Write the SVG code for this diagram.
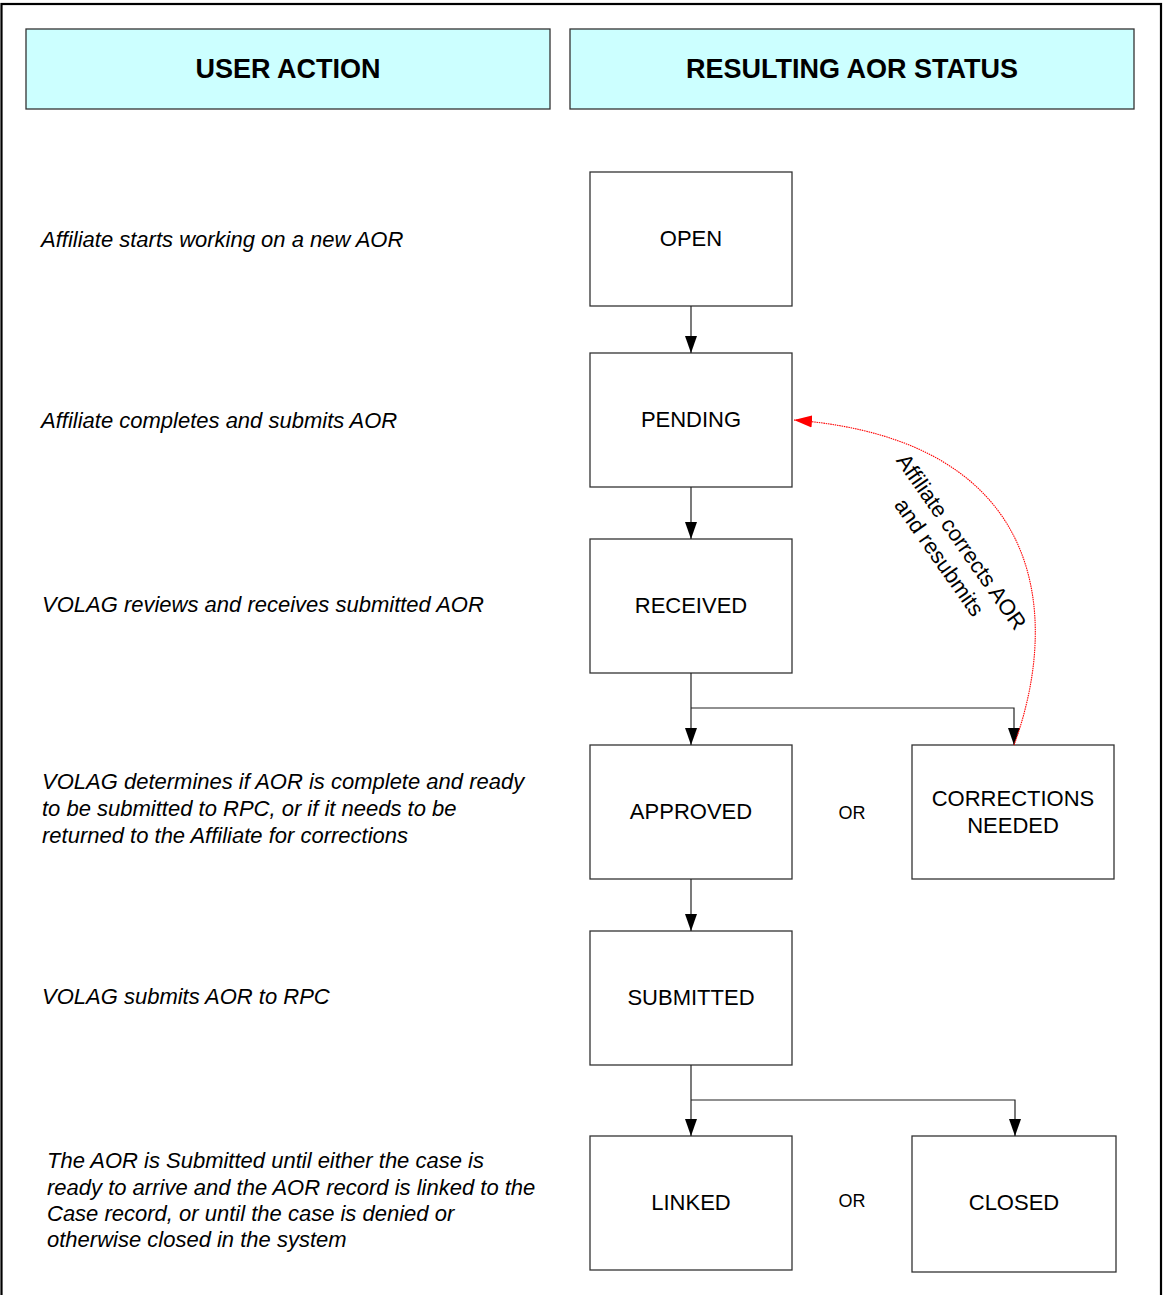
<svg xmlns="http://www.w3.org/2000/svg" width="1163" height="1295" viewBox="0 0 1163 1295">
<defs>
<style>
.hdr{fill:#ccffff;stroke:#333;stroke-width:1.3}
.hdrt{font-family:"Liberation Sans",Arial,sans-serif;font-size:27px;font-weight:bold;fill:#000;text-anchor:middle}
.box{fill:#fff;stroke:#333;stroke-width:1.3}
.bt{font-family:"Liberation Sans",Arial,sans-serif;font-size:22px;fill:#000;text-anchor:middle}
.lt{font-family:"Liberation Sans",Arial,sans-serif;font-size:22px;font-style:italic;fill:#000}
.or{font-family:"Liberation Sans",Arial,sans-serif;font-size:18px;fill:#000;text-anchor:middle}
.con{fill:none;stroke:#222;stroke-width:1.2}
.red{fill:none;stroke:#ff0000;stroke-width:1.1;stroke-dasharray:1.5 0.8}
</style>
<marker id="ah" markerUnits="userSpaceOnUse" markerWidth="17" markerHeight="14" refX="17" refY="7" orient="auto">
<path d="M0,1 L17,7 L0,13 Z" fill="#000"/>
</marker>
<marker id="ahr" markerUnits="userSpaceOnUse" markerWidth="18" markerHeight="14" refX="18" refY="7" orient="auto">
<path d="M0,1 L18,7 L0,13 Z" fill="#ff0000"/>
</marker>
</defs>
<rect x="1.5" y="4" width="1159.5" height="1310" fill="#fff" stroke="#000" stroke-width="2.2"/>

<g id="hdr-user"><rect class="hdr" x="26" y="29" width="524" height="80"/><text class="hdrt" x="288" y="78">USER ACTION</text></g>
<g id="hdr-status"><rect class="hdr" x="570" y="29" width="564" height="80"/><text class="hdrt" x="852" y="78">RESULTING AOR STATUS</text></g>

<g id="act-1"><text class="lt" x="41" y="247">Affiliate starts working on a new AOR</text></g>
<g id="act-2"><text class="lt" x="41" y="428">Affiliate completes and submits AOR</text></g>
<g id="act-3"><text class="lt" x="42" y="612">VOLAG reviews and receives submitted AOR</text></g>
<g id="act-4"><text class="lt" x="42" y="789">VOLAG determines if AOR is complete and ready</text><text class="lt" x="42" y="816">to be submitted to RPC, or if it needs to be</text><text class="lt" x="42" y="843">returned to the Affiliate for corrections</text></g>
<g id="act-5"><text class="lt" x="42" y="1004">VOLAG submits AOR to RPC</text></g>
<g id="act-6"><text class="lt" x="47" y="1168">The AOR is Submitted until either the case is</text><text class="lt" x="47" y="1195">ready to arrive and the AOR record is linked to the</text><text class="lt" x="47" y="1221">Case record, or until the case is denied or</text><text class="lt" x="47" y="1247">otherwise closed in the system</text></g>

<g id="open"><rect class="box" x="590" y="172" width="202" height="134"/><text class="bt" x="691" y="246">OPEN</text></g>
<g id="pending"><rect class="box" x="590" y="353" width="202" height="134"/><text class="bt" x="691" y="427">PENDING</text></g>
<g id="received"><rect class="box" x="590" y="539" width="202" height="134"/><text class="bt" x="691" y="613">RECEIVED</text></g>
<g id="approved"><rect class="box" x="590" y="745" width="202" height="134"/><text class="bt" x="691" y="819">APPROVED</text></g>
<g id="corrections"><rect class="box" x="912" y="745" width="202" height="134"/><text class="bt" x="1013" y="806">CORRECTIONS</text><text class="bt" x="1013" y="833">NEEDED</text></g>
<g id="submitted"><rect class="box" x="590" y="931" width="202" height="134"/><text class="bt" x="691" y="1005">SUBMITTED</text></g>
<g id="linked"><rect class="box" x="590" y="1136" width="202" height="134"/><text class="bt" x="691" y="1210">LINKED</text></g>
<g id="closed"><rect class="box" x="912" y="1136" width="204" height="136"/><text class="bt" x="1014" y="1210">CLOSED</text></g>
<g id="or-1"><text class="or" x="852" y="819">OR</text></g>
<g id="or-2"><text class="or" x="852" y="1207">OR</text></g>

<g id="connectors">
<path class="con" d="M691,306 V353" marker-end="url(#ah)"/>
<path class="con" d="M691,487 V539" marker-end="url(#ah)"/>
<path class="con" d="M691,673 V745" marker-end="url(#ah)"/>
<path class="con" d="M691,708 H1014 V745" marker-end="url(#ah)"/>
<path class="con" d="M691,879 V931" marker-end="url(#ah)"/>
<path class="con" d="M691,1065 V1136" marker-end="url(#ah)"/>
<path class="con" d="M691,1100 H1015 V1136" marker-end="url(#ah)"/>
<path class="red" d="M1014,745 C1060,620 1050,440 794,420" marker-end="url(#ahr)"/>
<g transform="translate(961,542) rotate(55)"><text class="bt" x="0" y="7">Affiliate corrects AOR</text><text class="bt" x="0" y="34">and resubmits</text></g>
</g>
</svg>
